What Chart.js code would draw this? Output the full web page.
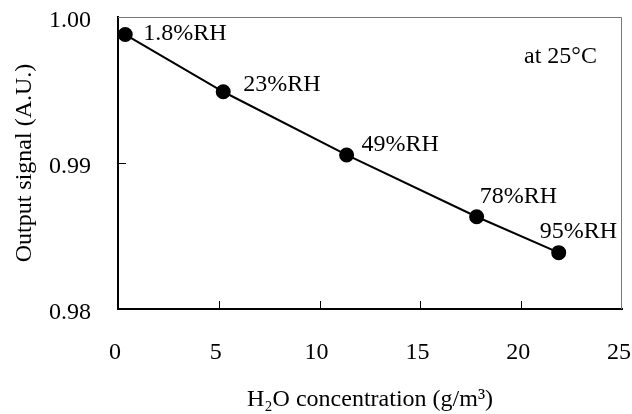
<!DOCTYPE html>
<html>
<head>
<meta charset="utf-8">
<script src="https://cdn.jsdelivr.net/npm/chart.js@4/dist/chart.umd.min.js"></script>
<style>
  html, body { margin: 0; padding: 0; background: #fff; }
  #wrap { width: 632px; height: 414px; position: relative; }
</style>
</head>
<body>
<div id="wrap"><canvas id="chart" width="632" height="414"></canvas></div>
<script>
// values
const concentration = [0.36, 5.22, 11.34, 17.79, 21.86];
const outputSignal = [0.9988, 0.99488, 0.99055, 0.98632, 0.98386];
const humidityLabels = ['1.8%RH', '23%RH', '49%RH', '78%RH', '95%RH'];
const xTicks = [0, 5, 10, 15, 20, 25];
const yTicks = [0.98, 0.99, 1.00];
const note = 'at 25°C';

const FONT = "'Liberation Serif', 'Times New Roman', serif";
const FONT_SIZE = 24;

// where each RH label sits relative to its point (px)
const labelOffsets = [[18, -1], [20, -7], [15, -10], [3, -20], [-19, -21]];

const extrasPlugin = {
  id: 'extras',
  afterDraw(chart) {
    const { ctx, chartArea: a, scales } = chart;
    ctx.save();
    // thin top/right frame
    ctx.strokeStyle = '#777';
    ctx.lineWidth = 1;
    ctx.beginPath();
    ctx.moveTo(a.left, a.top + 0.5);
    ctx.lineTo(a.right - 0.5, a.top + 0.5);
    ctx.lineTo(a.right - 0.5, a.bottom);
    ctx.stroke();

    // inward tick marks
    ctx.strokeStyle = '#000';
    ctx.lineWidth = 1;
    ctx.beginPath();
    xTicks.slice(1, -1).forEach((v) => {
      const px = Math.round(scales.x.getPixelForValue(v)) + 0.5;
      ctx.moveTo(px, a.bottom);
      ctx.lineTo(px, a.bottom - 8);
    });
    yTicks.slice(1, -1).forEach((v) => {
      const py = Math.round(scales.y.getPixelForValue(v)) + 0.5;
      ctx.moveTo(a.left, py);
      ctx.lineTo(a.left + 8, py);
    });
    ctx.stroke();

    // point labels
    ctx.fillStyle = '#000';
    ctx.font = `${FONT_SIZE}px ${FONT}`;
    ctx.textAlign = 'left';
    ctx.textBaseline = 'middle';
    const meta = chart.getDatasetMeta(0);
    meta.data.forEach((pt, i) => {
      const [dx, dy] = labelOffsets[i];
      ctx.fillText(humidityLabels[i], pt.x + dx, pt.y + dy);
    });

    // temperature note
    ctx.fillText(note, a.left + 406, a.top + 40);
    ctx.restore();
  },
};

new Chart(document.getElementById('chart'), {
  type: 'scatter',
  data: {
    datasets: [{
      data: concentration.map((x, i) => ({ x, y: outputSignal[i] })),
      showLine: true,
      borderColor: '#000',
      backgroundColor: '#000',
      borderWidth: 2,
      pointRadius: 6.5,
      pointHoverRadius: 6.5,
    }],
  },
  options: {
    responsive: false,
    animation: false,
    layout: { padding: { top: 17, right: 10, left: 0, bottom: 0 } },
    plugins: { legend: { display: false }, tooltip: { enabled: false } },
    scales: {
      x: {
        type: 'linear',
        min: 0,
        max: 25,
        afterFit(scale) {
          scale.height = 105;
          scale.paddingLeft = 0;
          scale.paddingRight = 0;
        },
        afterBuildTicks(scale) { scale.ticks = xTicks.map((value) => ({ value })); },
        grid: { display: false, drawTicks: false },
        border: { display: true, color: '#000', width: 2 },
        ticks: {
          color: '#000',
          font: { family: FONT, size: FONT_SIZE },
          padding: 29,
          labelOffset: -3,
          maxRotation: 0,
        },
        title: {
          display: true,
          text: 'H₂O concentration (g/m³)',
          color: '#000',
          font: { family: FONT, size: FONT_SIZE },
          padding: { top: 15, bottom: 0 },
        },
      },
      y: {
        type: 'linear',
        min: 0.98,
        max: 1.0,
        afterFit(scale) {
          scale.width = 118;
          scale.paddingTop = 0;
          scale.paddingBottom = 0;
        },
        afterBuildTicks(scale) { scale.ticks = yTicks.map((value) => ({ value })); },
        grid: { display: false, drawTicks: false },
        border: { display: true, color: '#000', width: 2 },
        ticks: {
          color: '#000',
          font: { family: FONT, size: FONT_SIZE },
          padding: 27,
          labelOffset: 4,
          callback: (v) => v.toFixed(2),
        },
        title: {
          display: true,
          text: 'Output signal (A.U.)',
          color: '#000',
          font: { family: FONT, size: FONT_SIZE },
          padding: { top: 10, bottom: 0 },
        },
      },
    },
  },
  plugins: [extrasPlugin],
});
</script>
</body>
</html>
